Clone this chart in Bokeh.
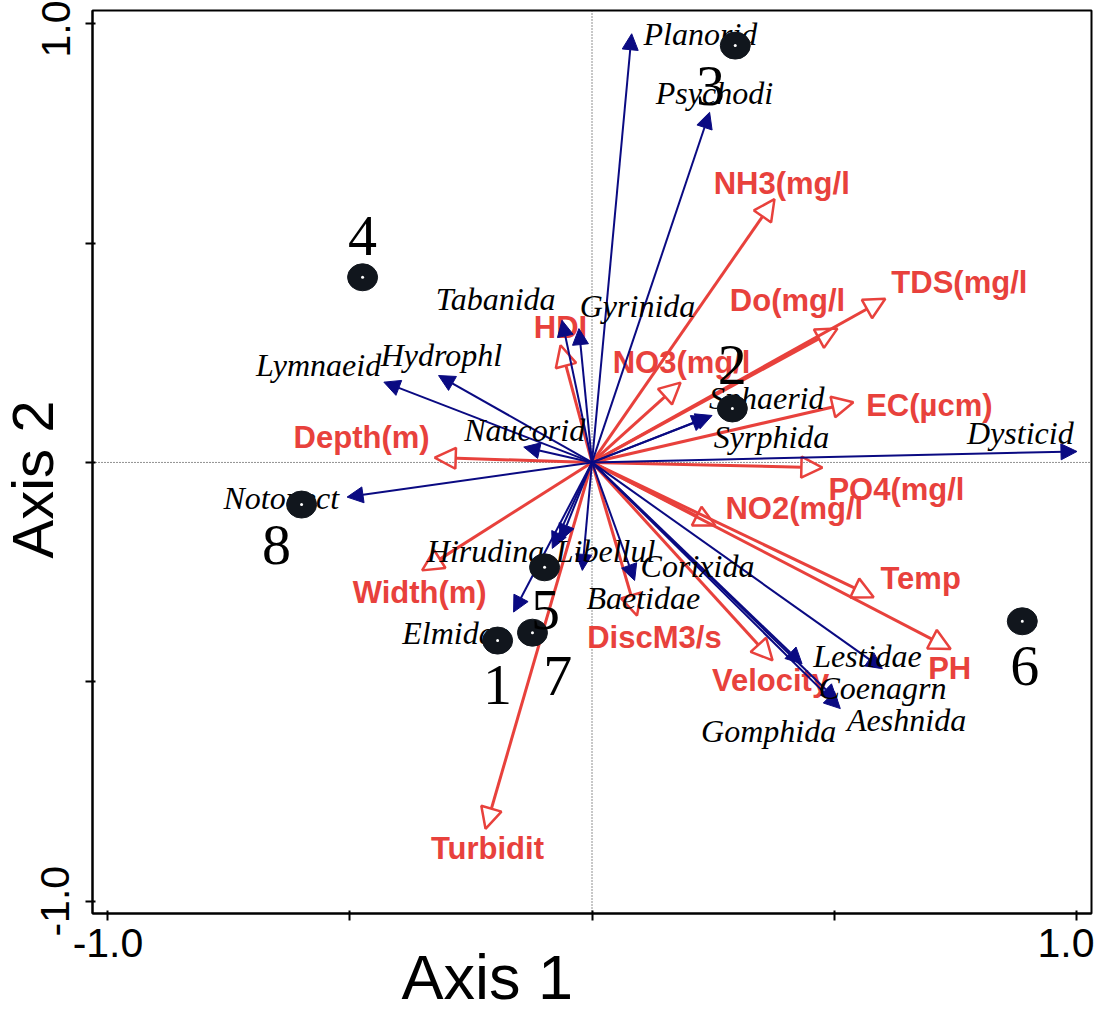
import math
from bokeh.plotting import figure
from bokeh.models import (Range1d, FixedTicker, Arrow, NormalHead, LabelSet, Title,
                          ColumnDataSource, Span)
from bokeh.core.properties import value
from bokeh.embed import file_html
from bokeh.resources import INLINE

# ---------------- data ----------------
species = ["Planorid", "Psychodi", "Tabanida", "Gyrinida", "Hydrophl", "Lymnaeid",
           "Naucorid", "Notonect", "Sphaerid", "Syrphida", "Dysticid", "Hirudina",
           "Libellul", "Corixida", "Baetidae", "Elmidae", "Lestidae", "Coenagrn",
           "Aeshnida", "Gomphida"]
species_x = [0.082, 0.243, -0.062, -0.027, -0.317, -0.430, -0.141, -0.506, 0.248, 0.240,
             1.002, -0.082, -0.020, -0.065, 0.088, -0.162, 0.600, 0.507, 0.513, 0.434]
species_y = [0.977, 0.798, 0.324, 0.305, 0.198, 0.183, 0.035, -0.079, 0.107, 0.103,
             0.025, -0.196, -0.246, -0.178, -0.269, -0.341, -0.470, -0.543, -0.561, -0.459]
species_lx = [0.224, 0.253, -0.199, 0.094, -0.311, -0.565, -0.139, -0.642, 0.361, 0.371,
              0.885, -0.220, 0.028, 0.218, 0.106, -0.282, 0.569, 0.600, 0.650, 0.365]
species_ly = [0.976, 0.843, 0.372, 0.356, 0.244, 0.223, 0.073, -0.080, 0.146, 0.059,
              0.068, -0.201, -0.201, -0.235, -0.308, -0.388, -0.442, -0.515, -0.588, -0.611]

env = ["NH3(mg/l", "TDS(mg/l", "Do(mg/l", "EC(µcm)", "PO4(mg/l", "NO2(mg/l", "NO3(mg/l",
       "HDI", "Temp", "PH", "Velocity", "DiscM3/s", "Turbidit", "Width(m)", "Depth(m)"]
env_x = [0.377, 0.606, 0.507, 0.540, 0.476, 0.255, 0.183, -0.065, 0.582, 0.741, 0.373,
         0.093, -0.220, -0.351, -0.325]
env_y = [0.600, 0.373, 0.305, 0.137, -0.012, -0.144, 0.182, 0.267, -0.307, -0.425, -0.451,
         -0.349, -0.835, -0.246, 0.011]
env_lx = [0.392, 0.759, 0.404, 0.697, 0.629, 0.418, 0.185, -0.065, 0.679, 0.739, 0.369,
          0.129, -0.216, -0.356, -0.476]
env_ly = [0.636, 0.410, 0.369, 0.130, -0.062, -0.105, 0.228, 0.308, -0.264, -0.470, -0.497,
          -0.399, -0.880, -0.296, 0.057]

sites = ["1", "2", "3", "4", "5", "6", "7", "8"]
site_x = [-0.195, 0.290, 0.296, -0.474, -0.098, 0.889, -0.123, -0.600]
site_y = [-0.406, 0.123, 0.950, 0.422, -0.239, -0.362, -0.388, -0.096]
site_lx = [-0.195, 0.290, 0.245, -0.474, -0.096, 0.894, -0.071, -0.652]
site_ly = [-0.508, 0.221, 0.859, 0.517, -0.337, -0.463, -0.486, -0.189]

tick_values = [-1.0, -0.5, 0.0, 0.5, 1.0]

# ---------------- styles ----------------
RED = "#e8413c"
BLUE = "#0a0a82"
DOT = "#11161d"

p = figure(width=1094, height=1010, output_backend="svg", toolbar_location=None,
           x_range=Range1d(-1.032, 1.032), y_range=Range1d(-1.028, 1.030),
           min_border_left=92, min_border_right=3, min_border_top=10, min_border_bottom=97)
p.grid.visible = False
p.outline_line_color = "black"
p.outline_line_width = 2
p.background_fill_color = "white"
p.border_fill_color = "white"

for ax in (p.xaxis[0], p.yaxis[0]):
    ax.ticker = FixedTicker(ticks=tick_values)
    ax.major_label_overrides = {-0.5: "", 0: "", 0.5: "", -1: "-1.0", 1: "1.0"}
    ax.minor_tick_line_color = None
    ax.axis_line_width = 2
    ax.axis_line_color = "black"
    ax.major_tick_line_width = 2
    ax.major_tick_out = 7
    ax.major_tick_in = 3
    ax.major_label_text_font = "Liberation Sans"
    ax.major_label_text_font_size = "41px"
    ax.major_label_text_color = "black"
p.xaxis.major_label_standoff = 8
p.yaxis.major_label_standoff = 16
p.yaxis.major_label_orientation = "vertical"

p.add_layout(Title(text="Axis 2", align="left", offset=355, standoff=-57,
                   vertical_align="top", text_font="Liberation Sans",
                   text_font_size="58px", text_font_style="normal",
                   text_color="black"), "left")

p.add_layout(Title(text="Axis 1", align="left", offset=309, standoff=-40,
                   vertical_align="bottom", text_font="Liberation Sans",
                   text_font_size="63px", text_font_style="normal",
                   text_color="black"), "below")

# dotted reference lines
p.add_layout(Span(location=0, dimension="height", line_color="#222222", line_width=1,
                  line_dash="1 2", level="underlay"))
p.add_layout(Span(location=0, dimension="width", line_color="#222222", line_width=1,
                  line_dash="1 2", level="underlay"))

# environmental arrows (red, open heads)
env_src = ColumnDataSource(dict(x=env_x, y=env_y, lx=env_lx, ly=env_ly, t=env))
p.add_layout(Arrow(end=NormalHead(size=21, fill_color=None, line_color=RED, line_width=2.5),
                   x_start=0, y_start=0, x_end="x", y_end="y", source=env_src,
                   line_color=RED, line_width=3))
p.add_layout(LabelSet(x="lx", y="ly", text="t", source=env_src, text_align="center",
                      text_baseline="middle", text_font=value("Liberation Sans"),
                      text_font_style="bold", text_font_size="31px", text_color=RED))

# species arrows (blue, filled heads)
sp_src = ColumnDataSource(dict(x=species_x, y=species_y, lx=species_lx, ly=species_ly, t=species))
p.add_layout(Arrow(end=NormalHead(size=16, fill_color=BLUE, line_color=BLUE, line_width=1),
                   x_start=0, y_start=0, x_end="x", y_end="y", source=sp_src,
                   line_color=BLUE, line_width=2))
p.add_layout(LabelSet(x="lx", y="ly", text="t", source=sp_src, text_align="center",
                      text_baseline="middle", text_font=value("Liberation Serif"),
                      text_font_style="italic", text_font_size="32px", text_color="black"))

# sites
site_src = ColumnDataSource(dict(x=site_x, y=site_y, lx=site_lx, ly=site_ly, t=sites))
p.ellipse(x="x", y="y", width=30, height=27, width_units="screen", height_units="screen",
          source=site_src, fill_color=DOT, line_color=DOT, level="overlay")
p.scatter(x="x", y="y", size=3, source=site_src, fill_color="white", line_color=None,
          level="overlay")
p.add_layout(LabelSet(x="lx", y="ly", text="t", source=site_src, text_align="center",
                      text_baseline="middle", text_font=value("Liberation Serif"),
                      text_font_size="58px", text_color="black", level="overlay"))

open("out.html", "w").write(file_html(p, INLINE))
